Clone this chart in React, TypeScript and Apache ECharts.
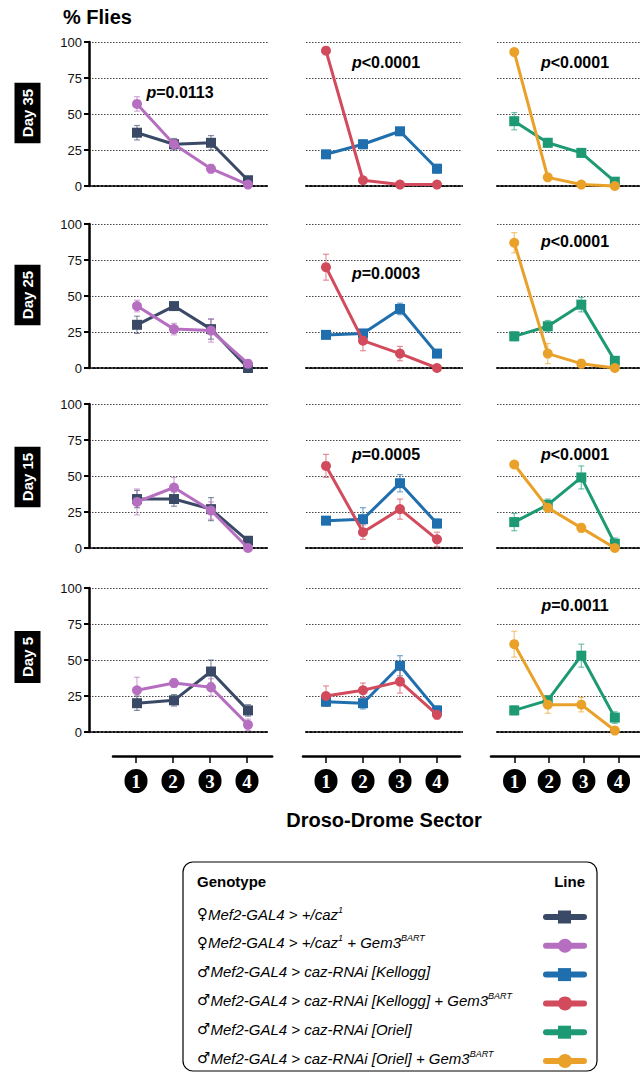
import React, { useEffect, useRef } from "react";
import * as echarts from "echarts";

// ---------- data ----------
const sectors = [1, 2, 3, 4];
const sectorLabels = ["1", "2", "3", "4"];
const dayLabels = ["Day 35", "Day 25", "Day 15", "Day 5"];
const yTicks = [0, 25, 50, 75, 100];

// rows: Day 35, Day 25, Day 15, Day 5 ; columns: sectors 1..4
const cazMean = [[37, 29, 30, 4], [30, 43, 27, 0], [34, 34, 27, 5], [20, 22, 42, 15]];
const cazErr = [[5, 4, 5, 2], [6, 2, 7, 1], [6, 5, 8, 3], [5, 4, 8, 4]];
const cazGemMean = [[57, 29, 12, 1], [43, 27, 26, 3], [32, 42, 26, 0], [29, 34, 31, 5]];
const cazGemErr = [[5, 3, 3, 1], [4, 4, 8, 2], [9, 7, 6, 1], [9, 3, 6, 4]];
const kelMean = [[22, 29, 38, 12], [23, 24, 41, 10], [19, 20, 45, 17], [21, 20, 46, 15]];
const kelErr = [[2, 3, 2, 3], [2, 2, 4, 2], [2, 8, 6, 3], [3, 4, 7, 3]];
const kelGemMean = [[94, 4, 1, 1], [70, 19, 10, 0], [57, 11, 27, 6], [25, 29, 35, 12]];
const kelGemErr = [[2, 1, 1, 1], [9, 7, 5, 1], [8, 5, 7, 5], [7, 5, 8, 3]];
const oriMean = [[45, 30, 23, 3], [22, 29, 44, 5], [18, 30, 49, 3], [15, 22, 53, 10]];
const oriErr = [[6, 3, 3, 2], [3, 4, 5, 2], [6, 4, 8, 4], [3, 3, 8, 4]];
const oriGemMean = [[93, 6, 1, 0], [87, 10, 3, 0], [58, 28, 14, 0], [61, 19, 19, 1]];
const oriGemErr = [[2, 2, 1, 1], [7, 7, 3, 1], [2, 3, 3, 1], [9, 6, 5, 1]];

const pValues = [
  ["p=0.0113", "p<0.0001", "p<0.0001"],
  ["", "p=0.0003", "p<0.0001"],
  ["", "p=0.0005", "p<0.0001"],
  ["", "", "p=0.0011"],
];

const genotypes = [
  { label: "{s|♀}{i|Mef2-GAL4 > +/caz}{u|1}", color: "#3A4A66", symbol: "rect", col: 0, mean: cazMean, err: cazErr },
  { label: "{s|♀}{i|Mef2-GAL4 > +/caz}{u|1}{i| + Gem3}{u|BART}", color: "#B66FC0", symbol: "circle", col: 0, mean: cazGemMean, err: cazGemErr },
  { label: "{s|♂}{i|Mef2-GAL4 > caz-RNAi [Kellogg]}", color: "#1F6FAE", symbol: "rect", col: 1, mean: kelMean, err: kelErr },
  { label: "{s|♂}{i|Mef2-GAL4 > caz-RNAi [Kellogg] + Gem3}{u|BART}", color: "#D24B5C", symbol: "circle", col: 1, mean: kelGemMean, err: kelGemErr },
  { label: "{s|♂}{i|Mef2-GAL4 > caz-RNAi [Oriel]}", color: "#1D9A74", symbol: "rect", col: 2, mean: oriMean, err: oriErr },
  { label: "{s|♂}{i|Mef2-GAL4 > caz-RNAi [Oriel] + Gem3}{u|BART}", color: "#E9A12A", symbol: "circle", col: 2, mean: oriGemMean, err: oriGemErr },
];

// ---------- layout ----------
const FONT = "Liberation Sans, Arial, sans-serif";
const ROW_TOP = [42, 224, 404, 588];
const ROW_H = 144;
const PX = 37; // pixels per sector unit
const COLS = [
  { left: 89, min: -0.297, max: 4.54 },
  { left: 306, min: 0.46, max: 4.68 },
  { left: 497, min: 0.486, max: 4.75 },
];
const BOTTOM = [
  { left: 113, min: 0.378, max: 4.68 },
  { left: 303, min: 0.378, max: 4.62 },
  { left: 491, min: 0.32, max: 4.62 },
];
const P_POS = [
  [[180, 92], [386, 62], [575, 62]],
  [null, [386, 273], [575, 241]],
  [null, [386, 454], [575, 454]],
  [null, null, [575, 605]],
];

function errRender(color: string) {
  return (params: any, api: any) => {
    const x = api.value(0);
    const y = api.value(1);
    const e = api.value(2);
    const top = api.coord([x, y + e]);
    const bot = api.coord([x, y - e]);
    const w = 3;
    const style = { stroke: color, lineWidth: 1.2, opacity: 0.6 };
    return {
      type: "group",
      children: [
        { type: "line", shape: { x1: top[0], y1: top[1], x2: bot[0], y2: bot[1] }, style },
        { type: "line", shape: { x1: top[0] - w, y1: top[1], x2: top[0] + w, y2: top[1] }, style },
        { type: "line", shape: { x1: bot[0] - w, y1: bot[1], x2: bot[0] + w, y2: bot[1] }, style },
      ],
    };
  };
}

function buildOption() {
  const grid: any[] = [];
  const xAxis: any[] = [];
  const yAxis: any[] = [];
  const series: any[] = [];
  const graphic: any[] = [];

  for (let r = 0; r < 4; r++) {
    for (let c = 0; c < 3; c++) {
      const idx = r * 3 + c;
      const col = COLS[c];
      grid.push({
        left: col.left,
        top: ROW_TOP[r],
        width: (col.max - col.min) * PX,
        height: ROW_H,
        containLabel: false,
      });
      xAxis.push({
        type: "value",
        gridIndex: idx,
        min: col.min,
        max: col.max,
        axisLine: { show: true, onZero: false, lineStyle: { color: "#111", width: 2, type: [2, 2] } },
        axisTick: { show: false },
        axisLabel: { show: false },
        splitLine: { show: false },
      });
      yAxis.push({
        type: "value",
        gridIndex: idx,
        min: 0,
        max: 100,
        interval: 25,
        position: "left",
        axisLine: { show: c === 0, onZero: false, lineStyle: { color: "#000", width: 2.5 } },
        axisTick: { show: c === 0, length: 5, lineStyle: { color: "#000", width: 2 } },
        axisLabel: {
          show: c === 0,
          color: "#111",
          fontSize: 13,
          fontFamily: FONT,
          margin: 7,
        },
        splitLine: { show: true, lineStyle: { color: "#444", width: 1, type: [1.5, 1.5] } },
      });
    }
  }

  // bottom sector axes
  for (let c = 0; c < 3; c++) {
    const b = BOTTOM[c];
    const gi = grid.length;
    grid.push({ left: b.left, top: 756, width: (b.max - b.min) * PX, height: 1 });
    xAxis.push({
      type: "value",
      gridIndex: gi,
      min: b.min,
      max: b.max,
      position: "top",
      axisLine: { show: true, onZero: false, lineStyle: { color: "#000", width: 2.5 } },
      axisTick: { show: true, inside: true, length: 7, customValues: sectors, lineStyle: { color: "#000", width: 1.5 } },
      axisLabel: {
        show: true,
        inside: true,
        margin: 13,
        customValues: sectors,
        formatter: (v: number) => "{c|" + sectorLabels[Math.round(v) - 1] + "}",
        rich: {
          c: {
            backgroundColor: "#000",
            color: "#fff",
            width: 23,
            height: 24,
            lineHeight: 24,
            borderRadius: 12,
            align: "center",
            fontSize: 19,
            fontWeight: "bold",
            fontFamily: "Liberation Serif, serif",
          },
        },
      },
      splitLine: { show: false },
    });
    yAxis.push({ type: "value", gridIndex: gi, show: false, min: 0, max: 1 });
  }

  // series
  for (let r = 0; r < 4; r++) {
    genotypes.forEach((g, k) => {
      const idx = r * 3 + g.col;
      const isCircle = g.symbol === "circle";
      series.push({
        type: "custom",
        xAxisIndex: idx,
        yAxisIndex: idx,
        renderItem: errRender(g.color),
        data: sectors.map((s, i) => [s, g.mean[r][i], g.err[r][i]]),
        encode: { x: 0, y: 1 },
        clip: false,
        z: 2,
        silent: true,
      });
      series.push({
        type: "line",
        name: "g" + k,
        xAxisIndex: idx,
        yAxisIndex: idx,
        data: sectors.map((s, i) => [s, g.mean[r][i]]),
        symbol: g.symbol,
        symbolSize: 10,
        showSymbol: true,
        lineStyle: { color: g.color, width: 3 },
        itemStyle: { color: g.color },
        clip: false,
        z: isCircle ? 4 : 3,
      });
    });
  }

  // y title
  graphic.push({
    type: "text",
    x: 63,
    y: 17,
    style: { text: "% Flies", fontSize: 20, fontWeight: "bold", fontFamily: FONT, fill: "#000", verticalAlign: "middle" },
  });

  // day labels
  const dayCenters = [113, 295, 477, 657];
  dayLabels.forEach((d, r) => {
    graphic.push({
      type: "text",
      x: 27.5,
      y: dayCenters[r],
      rotation: Math.PI / 2,
      style: {
        text: d,
        fontSize: 15,
        fontWeight: "bold",
        fontFamily: FONT,
        fill: "#fff",
        backgroundColor: "#000",
        padding: [6, 6, 5, 6],
        align: "center",
        verticalAlign: "middle",
      },
    });
  });

  // p-values
  pValues.forEach((row, r) =>
    row.forEach((p, c) => {
      const pos = P_POS[r][c];
      if (!p || !pos) return;
      graphic.push({
        type: "text",
        x: pos[0],
        y: pos[1],
        style: {
          text: "{i|" + p.slice(0, 1) + "}{n|" + p.slice(1) + "}",
          align: "center",
          verticalAlign: "middle",
          rich: {
            i: { fontSize: 16, fontWeight: "bold", fontStyle: "italic", fontFamily: FONT, fill: "#000" },
            n: { fontSize: 16, fontWeight: "bold", fontFamily: FONT, fill: "#000" },
          },
        },
      });
    })
  );

  // x title
  graphic.push({
    type: "text",
    x: 384,
    y: 820,
    style: {
      text: "Droso-Drome Sector",
      fontSize: 20,
      fontWeight: "bold",
      fontFamily: FONT,
      fill: "#000",
      align: "center",
      verticalAlign: "middle",
    },
  });

  // legend box
  const lx = 183, ly = 862, lw = 414, lh = 209;
  const legendChildren: any[] = [
    {
      type: "rect",
      shape: { x: lx, y: ly, width: lw, height: lh, r: 10 },
      style: { fill: "#fff", stroke: "#000", lineWidth: 1.2 },
    },
    {
      type: "text",
      x: lx + 14,
      y: 881,
      style: { text: "Genotype", fontSize: 15, fontWeight: "bold", fontFamily: FONT, fill: "#000", verticalAlign: "middle" },
    },
    {
      type: "text",
      x: 585,
      y: 881,
      style: { text: "Line", fontSize: 15, fontWeight: "bold", fontFamily: FONT, fill: "#000", align: "right", verticalAlign: "middle" },
    },
  ];
  genotypes.forEach((g, k) => {
    const yy = 914 + k * 28.8;
    legendChildren.push({
      type: "text",
      x: lx + 14,
      y: yy,
      style: {
        text: g.label,
        verticalAlign: "middle",
        rich: {
          s: { fontSize: 15, fontFamily: "DejaVu Sans, sans-serif", fill: "#000", lineHeight: 18 },
          i: { fontSize: 15, fontStyle: "italic", fontFamily: FONT, fill: "#000", lineHeight: 18 },
          u: { fontSize: 9, fontStyle: "italic", fontFamily: FONT, fill: "#000", lineHeight: 18, verticalAlign: "top", padding: [0, 0, 7, 0] },
        },
      },
    });
    legendChildren.push({
      type: "line",
      shape: { x1: 546, y1: yy + 3, x2: 584, y2: yy + 3 },
      style: { stroke: g.color, lineWidth: 6, lineCap: "round" },
    });
    if (g.symbol === "rect") {
      legendChildren.push({
        type: "rect",
        shape: { x: 558, y: yy + 3 - 6.5, width: 13, height: 13 },
        style: { fill: g.color },
      });
    } else {
      legendChildren.push({
        type: "circle",
        shape: { cx: 565, cy: yy + 3, r: 7 },
        style: { fill: g.color },
      });
    }
  });
  graphic.push({ type: "group", children: legendChildren });

  return {
    animation: false,
    backgroundColor: "#fff",
    textStyle: { fontFamily: FONT },
    grid,
    xAxis,
    yAxis,
    series,
    graphic,
  };
}

export default function App() {
  const ref = useRef<HTMLDivElement>(null);
  useEffect(() => {
    document.body.style.margin = "0";
    if (!ref.current) return;
    const chart = echarts.init(ref.current, undefined, { renderer: "svg" });
    chart.setOption(buildOption() as any);
    return () => chart.dispose();
  }, []);
  return <div ref={ref} style={{ width: 640, height: 1074 }} />;
}
